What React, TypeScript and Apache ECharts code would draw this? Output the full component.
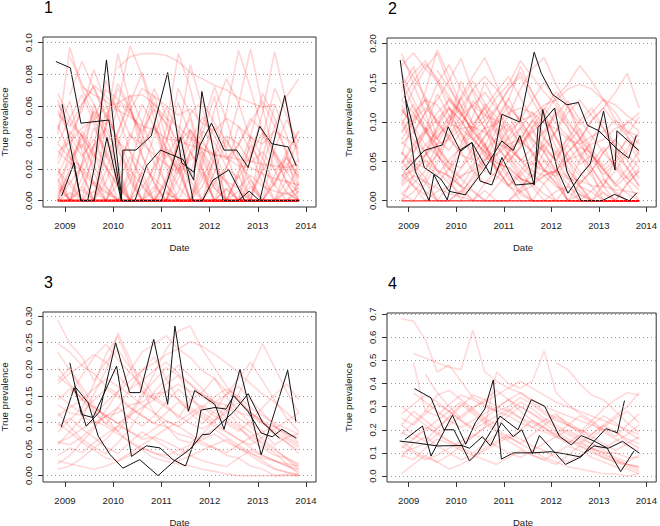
import React, { useEffect, useRef } from "react";
import * as echarts from "echarts";

// quarterly sampling dates used by the red (posterior) lines
const QUARTERS = [2008.85, 2009.1, 2009.35, 2009.6, 2009.85, 2010.1, 2010.35, 2010.6, 2010.85, 2011.1, 2011.35, 2011.6, 2011.85, 2012.1, 2012.35, 2012.6, 2012.85, 2013.1, 2013.35, 2013.6, 2013.85];
const YEAR_TICKS = [2009, 2010, 2011, 2012, 2013, 2014];
const P1_TICKS = [0, 0.02, 0.04, 0.06, 0.08, 0.1];
const P2_TICKS = [0, 0.05, 0.1, 0.15, 0.2];
const P3_TICKS = [0, 0.05, 0.1, 0.15, 0.2, 0.25, 0.3];
const P4_TICKS = [0, 0.1, 0.2, 0.3, 0.4, 0.5, 0.6, 0.7];

// red lines, panel 1 (units of 0.001)
const P1_RED = [
  [68,52,41,18,0,0,12,33,47,21,0,0,9,26,0,0,4,19,31,11,0],
  [16,33,61,72,54,39,22,0,0,14,37,52,21,0,0,0,13,0,0,7,22],
  [0,0,9,27,47,93,61,28,11,0,0,17,42,66,29,9,0,0,16,31,44],
  [42,97,71,53,29,12,0,0,23,38,62,41,19,0,0,6,0,0,0,13,5],
  [5,13,0,0,31,61,98,79,52,24,9,0,0,0,21,47,31,11,0,0,0],
  [55,47,61,73,66,59,41,36,29,23,17,26,31,19,12,8,16,9,6,4,8],
  [0,21,44,31,9,0,0,0,16,46,93,71,39,23,11,0,0,27,61,41,16],
  [31,24,19,10,5,0,0,8,21,33,27,13,0,0,0,0,0,0,0,0,0],
  [null,null,72,67,63,57,53,47,45,39,38,35,33,29,28,26,25,23,22,21,23],
  [10,0,0,0,19,43,67,49,31,10,0,0,0,29,56,95,71,44,19,5,0],
  [0,0,0,0,0,11,28,14,0,0,0,0,14,31,12,0,0,0,0,0,0],
  [23,41,57,83,61,34,12,0,0,0,5,31,47,72,51,27,10,0,0,0,0],
  [null,null,null,null,null,84,91,93,93,92,88,81,77,73,70,65,62,59,61,null,null],
  [0,0,14,36,21,0,0,0,0,11,27,45,31,14,0,0,0,21,47,66,77],
  [8,0,0,0,0,0,0,0,0,0,0,0,0,0,0,0,0,0,0,0,0],
  [45,63,31,10,0,0,0,19,41,59,44,31,15,0,0,0,0,0,11,29,44],
  [0,0,0,12,0,0,0,0,0,5,0,0,0,0,0,16,0,0,0,0,0],
  [19,10,0,34,76,54,31,9,0,0,0,0,0,0,0,0,0,41,71,54,29],
  [0,5,0,0,0,0,0,18,0,0,0,0,0,0,8,0,0,0,0,5,0],
  [31,37,46,51,59,62,66,67,61,52,47,39,36,29,27,22,21,17,14,12,10],
  [0,0,24,61,39,18,0,0,0,0,41,86,59,31,0,0,0,0,0,21,39],
  [12,25,36,22,8,0,0,0,0,0,0,0,0,0,0,19,41,27,10,0,0],
  [null,91,74,61,44,31,19,10,0,0,0,0,0,0,0,0,0,0,0,0,0],
  [0,0,0,0,0,0,21,49,71,54,31,9,0,0,0,0,0,0,0,0,0],
  [0,0,0,0,0,0,0,0,0,0,0,0,0,11,21,36,49,63,47,31,11],
  [36,27,21,12,6,0,0,0,0,0,14,31,19,8,0,0,0,0,0,0,0],
  [0,0,0,0,49,71,57,41,24,10,0,0,0,0,0,0,27,56,94,61,24],
  [61,49,41,29,21,9,0,0,0,0,0,0,0,0,0,0,0,0,0,0,0],
  [0,11,22,35,46,37,31,21,14,6,0,0,0,0,0,0,0,0,0,0,0],
  [0,0,0,0,0,0,0,0,0,12,35,55,63,49,38,25,14,0,0,0,0],
  [null,26,39,57,48,62,55,44,58,49,37,45,33,28,41,36,24,31,19,27,15],
  [0,0,0,0,0,0,0,0,0,0,0,0,0,0,0,0,0,0,0,0,0],
  [14,0,7,0,0,22,0,0,9,0,0,0,18,0,0,0,0,0,0,0,6],
  [null,null,null,52,70,64,57,71,66,60,54,58,49,44,52,47,40,36,44,39,33],
  [0,0,0,0,0,0,0,0,0,0,0,0,28,47,33,61,96,59,27,12,0],
  [3,18,42,27,56,38,14,0,6,31,19,44,26,8,0,17,35,22,9,28,14],
  [48,29,0,0,12,35,58,42,67,39,21,0,0,18,39,24,0,0,33,51,37],
  [0,0,0,6,0,0,17,0,0,0,24,0,0,0,0,0,9,0,0,0,0],
  [27,44,33,56,41,22,39,61,47,33,19,28,44,37,21,14,29,43,31,18,26],
  [null,67,88,71,52,74,59,36,48,27,41,19,0,0,0,0,0,0,0,0,0],
  [0,0,0,0,0,0,0,0,0,0,0,0,0,0,0,0,0,0,12,24,9],
  [12,0,23,46,31,14,0,0,0,36,71,54,28,11,0,0,0,0,0,0,0],
  [0,33,18,0,0,0,0,39,62,48,26,0,0,0,0,0,41,68,52,29,0],
  [57,41,28,39,22,9,0,0,0,0,0,0,0,0,0,0,0,0,0,0,0],
  [0,0,0,0,0,18,43,29,11,0,0,0,0,0,7,0,0,0,0,0,0],
  [21,0,0,0,0,0,0,0,0,0,0,0,23,58,77,62,38,17,0,0,0],
  [36,52,67,49,27,44,62,81,58,31,18,37,53,41,26,35,52,44,29,18,7],
  [null,null,9,0,0,0,0,0,0,0,19,0,0,0,0,0,0,0,0,0,0],
  [64,38,17,0,0,0,0,0,0,0,0,0,0,0,0,0,0,0,0,0,11],
];

// red lines, panel 2 (units of 0.001)
const P2_RED = [
  [152,118,93,58,41,72,108,151,122,79,52,31,63,88,121,79,42,19,52,81,63],
  [58,103,139,192,158,121,82,57,43,18,11,42,79,118,93,57,31,9,0,22,38],
  [21,42,58,83,97,133,158,182,148,112,77,62,38,31,52,68,61,39,21,9,0],
  [103,78,62,39,31,18,42,69,102,128,171,138,112,79,51,19,0,0,0,0,0],
  [0,0,22,48,83,108,142,118,92,58,31,0,0,0,19,52,78,103,68,41,18],
  [181,158,132,98,82,58,52,38,31,19,32,48,71,88,112,128,108,92,68,52,28],
  [42,53,58,72,78,92,94,87,73,66,53,47,38,36,28,26,19,18,14,12,9],
  [128,112,88,71,48,42,58,82,98,121,102,78,62,38,21,0,0,0,0,0,0],
  [72,88,112,128,153,181,138,102,68,52,28,22,38,62,78,102,118,92,58,42,19],
  [0,11,28,62,88,132,98,72,38,21,0,0,0,0,0,0,0,21,38,62,78],
  [108,142,168,188,148,112,88,102,118,142,158,128,102,68,42,18,0,0,0,0,0],
  [52,28,12,0,0,0,22,48,82,108,142,168,182,148,122,88,62,28,11,0,0],
  [19,32,24,16,9,5,0,0,0,0,11,19,32,38,31,18,11,0,0,0,0],
  [88,112,128,122,98,92,78,92,98,112,118,112,98,92,78,72,82,88,102,88,82],
  [162,128,102,78,102,118,142,158,142,118,102,78,62,38,62,78,102,118,138,162,118],
  [0,0,0,0,0,0,0,0,0,0,0,0,0,0,0,0,0,0,0,0,0],
  [28,62,88,62,28,0,0,22,38,62,78,62,38,22,0,0,0,0,0,0,0],
  [138,162,178,152,118,102,78,62,48,42,28,22,32,38,52,58,72,78,92,98,112],
  [62,48,42,58,82,98,122,108,102,88,102,108,122,128,142,148,142,128,122,108,98],
  [9,22,38,72,98,152,118,92,58,32,8,0,0,0,0,22,38,62,78,58,42],
  [122,88,62,38,22,8,32,58,92,68,52,38,32,18,12,0,0,0,0,0,0],
  [78,102,118,102,78,62,38,22,28,52,68,92,108,132,148,172,152,128,112,88,72],
  [42,18,0,0,0,12,28,52,68,92,108,92,68,52,28,12,0,0,0,22,38],
  [172,188,168,152,128,112,88,72,48,42,28,22,8,0,0,0,0,0,0,0,0],
  [0,0,0,12,18,32,38,52,58,72,78,102,118,98,82,58,42,18,0,0,0],
  [98,72,48,32,52,68,92,108,132,148,178,158,138,122,98,82,58,42,18,32,52],
  [32,38,52,38,32,18,12,0,0,0,0,0,0,12,18,8,0,0,0,0,0],
  [48,72,88,112,128,108,92,68,52,28,12,0,22,38,62,78,102,118,98,82,58],
  [188,148,112,68,42,18,0,0,0,0,0,0,0,0,0,0,0,0,0,0,0],
  [0,32,58,92,118,102,78,62,38,62,78,102,78,62,38,22,38,62,78,102,88],
  [null,null,62,95,131,112,89,123,106,77,93,58,71,49,83,62,37,0,0,0,0],
  [115,97,131,78,64,88,52,73,39,61,44,29,52,36,0,0,0,11,0,0,0],
  [null,47,29,0,0,0,0,13,0,0,0,0,0,0,0,0,0,0,0,0,0],
  [75,61,86,104,119,94,127,111,84,98,72,89,64,53,71,46,58,39,52,28,41],
  [0,0,0,0,0,0,0,0,18,37,24,0,0,0,0,0,0,0,0,0,0],
  [97,123,88,136,109,74,96,118,87,64,92,113,81,57,73,92,66,44,59,77,51],
  [0,0,0,0,0,0,0,0,0,0,0,0,0,0,0,0,0,0,0,0,0],
  [143,171,126,98,117,84,59,82,104,131,97,73,51,28,0,0,0,0,0,0,0],
  [24,47,71,58,39,62,88,67,42,19,37,58,41,22,0,0,13,27,9,0,0],
  [null,84,112,149,173,141,118,92,71,49,68,87,104,79,52,31,49,68,41,22,0],
  [61,42,23,0,0,0,0,0,0,0,0,0,0,0,0,0,0,0,0,0,0],
  [0,0,0,0,19,41,68,93,117,142,163,137,109,81,58,37,18,0,0,0,0],
  [117,94,71,88,106,129,152,124,97,72,51,67,89,112,93,71,52,33,49,66,87],
  [33,19,7,22,41,28,13,0,0,0,16,33,21,0,0,0,0,0,0,0,0],
  [null,null,null,166,143,121,97,118,139,158,131,104,86,109,127,103,82,61,44,28,14],
  [86,109,91,67,48,29,46,63,79,58,37,18,0,0,0,0,0,0,0,0,0],
  [47,68,93,78,109,87,64,41,59,81,104,128,151,127,102,79,57,38,22,41,63],
  [9,0,0,0,0,13,0,0,0,0,0,0,0,0,0,8,0,0,0,0,0],
  [128,151,174,156,133,109,121,138,117,93,71,94,116,139,118,97,111,129,103,84,107],
];

// red lines, panel 3 (units of 0.001)
const P3_RED = [
  [292,248,223,178,214,236,203,158,144,172,188,153,118,104,133,108,93,68,52,31,12],
  [82,104,127,172,228,262,207,183,148,133,108,142,157,183,147,122,98,83,58,72,79],
  [178,203,158,122,98,83,112,147,192,238,272,281,237,203,168,143,118,102,78,63,41],
  [118,92,68,53,41,62,88,123,157,183,208,187,163,138,122,97,82,58,43,22,3],
  [22,38,63,88,123,158,198,232,247,263,238,222,197,183,158,142,118,103,78,62,48],
  [248,232,207,192,168,153,128,113,98,92,78,72,58,52,38,33,18,12,0,2,0],
  [58,83,108,153,198,268,218,162,118,93,68,62,78,103,118,153,198,248,203,158,118],
  [133,118,113,98,112,118,133,138,153,158,172,158,153,138,133,118,112,98,93,78,72],
  [12,18,33,52,68,93,118,153,178,203,188,172,148,133,108,93,68,52,38,33,18],
  [203,172,143,118,97,128,163,198,223,182,143,118,97,122,153,182,213,178,142,108,83],
  [93,108,88,72,53,42,63,82,68,53,38,52,73,88,72,57,43,28,13,7,0],
  [null,153,188,223,247,218,193,168,143,128,113,98,88,103,123,138,118,98,83,68,53],
  [152,133,118,142,163,148,127,112,98,118,138,123,108,93,82,68,53,38,28,18,8],
  [63,58,72,93,112,128,108,93,113,138,162,143,128,112,98,83,103,128,152,172,143],
  [232,198,167,132,108,83,62,48,33,27,22,18,12,8,3,0,0,0,0,0,0],
  [38,52,43,62,78,93,83,72,88,103,93,78,63,52,43,58,72,63,48,33,22],
  [173,192,208,228,213,188,163,178,198,213,193,172,153,138,152,168,142,118,93,72,58],
  [98,82,63,48,33,28,43,58,72,63,52,38,28,22,17,33,48,38,28,18,12],
  [null,null,null,113,138,158,178,198,212,227,238,252,243,228,212,193,173,153,138,118,98],
  [142,163,148,128,112,98,82,68,73,88,102,117,132,118,103,88,73,82,93,78,62],
  [62,72,88,103,93,78,63,52,42,38,47,58,68,78,63,52,42,33,28,22,18],
  [188,168,143,163,182,168,152,133,118,103,92,108,128,148,163,148,128,113,98,88,78],
  [28,22,17,12,18,27,38,52,43,33,28,37,48,58,68,52,38,23,12,6,2],
  [112,128,143,128,113,98,113,128,143,158,143,128,113,98,83,68,58,72,88,103,118],
];

// red lines, panel 4 (units of 0.01)
const P4_RED = [
  [68,67,59,45,48,41,34,31,28,26,23,21,19,17,15,14,12,10,10,8,8],
  [null,53,51,49,47,46,63,45,41,38,36,33,30,28,26,24,22,20,19,16,14],
  [null,49,28,26,31,35,33,30,28,30,34,31,27,24,22,20,18,22,26,30,36],
  [22,18,15,21,25,30,35,33,30,28,25,23,20,18,15,13,10,8,6,5,4],
  [10,12,14,18,22,26,30,32,35,38,41,38,35,32,30,28,26,24,22,20,18],
  [25,22,27,31,28,24,20,23,26,29,25,21,24,27,22,19,16,21,25,28,23],
  [8,14,17,13,10,7,9,12,15,18,16,13,11,8,6,9,12,10,7,5,3],
  [null,null,44,36,30,25,29,33,37,33,28,24,21,18,22,26,23,19,16,13,11],
  [18,23,28,35,37,33,29,25,22,26,30,27,23,19,16,14,18,22,19,15,12],
  [12,16,21,19,15,12,10,14,18,15,12,9,7,10,13,11,8,6,4,3,1],
  [null,null,null,null,null,null,null,null,null,null,null,null,null,49,46,40,35,33,28,23,19],
  [30,26,22,18,15,13,17,21,45,40,38,41,54,36,31,27,24,20,17,22,27],
  [15,11,8,6,9,13,17,21,24,28,32,29,25,22,19,16,14,12,15,18,22],
  [1,5,9,6,3,5,8,11,14,17,14,11,8,6,4,3,2,1,1,0,1],
  [27,31,35,32,28,24,21,25,29,33,30,27,24,21,18,15,12,9,7,5,4],
  [19,16,20,24,28,32,28,24,20,17,14,18,22,26,23,20,17,14,11,14,17],
  [null,36,32,28,24,21,24,27,30,33,36,32,28,25,22,19,24,29,33,36,35],
  [9,7,12,16,14,11,9,7,5,8,11,9,7,5,9,13,11,8,6,4,2],
  [22,28,24,20,26,31,27,23,19,16,20,24,21,17,14,18,22,26,23,19,16],
  [13,10,7,9,12,15,18,16,13,10,8,11,14,17,20,17,14,11,8,6,9],
];

// black (observed) lines: [year, prevalence]
const P1_BLACK = [
  [[2008.81,0.088],[2009.11,0.084],[2009.33,0.049],[2009.91,0.051],[2010.17,0.0],[2010.2,0.032],[2010.47,0.032],[2010.79,0.041],[2011.13,0.081],[2011.42,0.024],[2011.67,0.018],[2011.8,0.035],[2012.04,0.049],[2012.3,0.032],[2012.56,0.032],[2012.8,0.021],[2013.04,0.047],[2013.29,0.036],[2013.63,0.034],[2013.8,0.022]],
  [[2008.94,0.061],[2009.33,0.0],[2009.6,0.0],[2009.87,0.04],[2010.17,0.0],[2010.45,0.0],[2010.69,0.022],[2010.98,0.032],[2011.45,0.026],[2011.67,0.013],[2011.84,0.069],[2012.28,0.0],[2012.6,0.0],[2012.82,0.006],[2013.04,0.0],[2013.56,0.0665],[2013.75,0.0366]],
  [[2008.93,0.003],[2009.19,0.024],[2009.33,0.0],[2009.47,0.0],[2009.62,0.023],[2009.86,0.089],[2010.18,0.0],[2010.6,0.0],[2011.0,0.0],[2011.4,0.04],[2011.66,0.0],[2011.85,0.0],[2012.07,0.013],[2012.4,0.0195],[2012.73,0.0],[2013.2,0.0],[2013.85,0.0]],
];
const P2_BLACK = [
  [[2008.82,0.179],[2009.14,0.037],[2009.43,0.0],[2009.53,0.033],[2009.81,0.001],[2010.09,0.065],[2010.33,0.074],[2010.72,0.033],[2010.96,0.11],[2011.34,0.1],[2011.64,0.189],[2011.79,0.162],[2012.03,0.135],[2012.33,0.122],[2012.57,0.125],[2012.76,0.096],[2013.0,0.089],[2013.38,0.066],[2013.63,0.054],[2013.79,0.083]],
  [[2008.92,0.133],[2009.33,0.042],[2009.67,0.028],[2009.85,0.012],[2010.19,0.0075],[2010.58,0.039],[2010.96,0.076],[2011.2,0.064],[2011.34,0.083],[2011.64,0.02],[2011.72,0.093],[2012.07,0.118],[2012.33,0.037],[2012.63,0.0],[2012.8,0.0],[2013.07,0.0],[2013.33,0.008],[2013.64,0.0],[2013.8,0.01]],
  [[2008.94,0.039],[2009.33,0.064],[2009.71,0.071],[2009.83,0.094],[2010.09,0.063],[2010.33,0.074],[2010.5,0.025],[2010.75,0.02],[2010.96,0.055],[2011.25,0.02],[2011.64,0.022],[2011.82,0.116],[2012.13,0.039],[2012.35,0.0096],[2012.65,0.035],[2012.82,0.047],[2013.1,0.114],[2013.34,0.039],[2013.38,0.089],[2013.84,0.064]],
];
const P3_BLACK = [
  [[2008.92,0.091],[2009.19,0.165],[2009.44,0.093],[2009.72,0.12],[2010.05,0.25],[2010.34,0.156],[2010.56,0.156],[2010.84,0.256],[2011.13,0.134],[2011.28,0.281],[2011.56,0.121],[2011.69,0.16],[2012.11,0.134],[2012.3,0.087],[2012.63,0.2],[2013.07,0.039],[2013.62,0.198],[2013.79,0.102]],
  [[2009.1,0.212],[2009.34,0.115],[2009.58,0.109],[2010.07,0.206],[2010.38,0.036],[2010.69,0.056],[2010.97,0.052],[2011.24,0.03],[2011.5,0.018],[2011.73,0.075],[2011.82,0.123],[2012.11,0.128],[2012.34,0.125],[2012.5,0.15],[2012.8,0.12],[2013.07,0.08],[2013.3,0.073],[2013.5,0.087],[2013.8,0.07]],
  [[2009.2,0.168],[2009.48,0.137],[2009.69,0.074],[2009.93,0.04],[2010.2,0.014],[2010.55,0.03],[2010.93,0.0],[2011.3,0.03],[2011.6,0.05],[2011.85,0.077],[2012.0,0.078],[2012.5,0.12],[2012.8,0.154],[2013.1,0.1],[2013.45,0.07]],
];
const P4_BLACK = [
  [[2009.12,0.378],[2009.47,0.338],[2009.74,0.2],[2009.95,0.2],[2010.28,0.065],[2010.45,0.1],[2010.75,0.2],[2010.92,0.259],[2011.3,0.2],[2011.58,0.33],[2011.86,0.302],[2012.17,0.172],[2012.42,0.134],[2012.63,0.175],[2012.9,0.151],[2013.17,0.122],[2013.46,0.019],[2013.74,0.108]],
  [[2008.92,0.158],[2009.29,0.216],[2009.47,0.086],[2009.92,0.263],[2010.2,0.137],[2010.4,0.23],[2010.6,0.29],[2010.78,0.415],[2010.95,0.073],[2011.2,0.1],[2011.6,0.1],[2012.0,0.105],[2012.3,0.095],[2012.6,0.083],[2012.9,0.13],[2013.2,0.12],[2013.5,0.15],[2013.87,0.096]],
  [[2008.81,0.151],[2009.12,0.144],[2009.6,0.13],[2010.12,0.132],[2010.28,0.12],[2010.55,0.17],[2010.72,0.13],[2010.95,0.23],[2011.2,0.17],[2011.38,0.2],[2011.6,0.096],[2011.75,0.175],[2012.3,0.05],[2012.63,0.083],[2012.9,0.15],[2013.15,0.205],[2013.39,0.187],[2013.54,0.326]],
];

const FONT = "'Liberation Sans', Arial, Helvetica, sans-serif";

const PANELS = [
  { label: "1", red: P1_RED, unit: 0.001, black: P1_BLACK, ticks: P1_TICKS, dec: 2, ymin: -0.004, ymax: 0.1035, box: { left: 43, top: 37, width: 273, height: 170 }, redAlpha: 0.17 },
  { label: "2", red: P2_RED, unit: 0.001, black: P2_BLACK, ticks: P2_TICKS, dec: 2, ymin: -0.008, ymax: 0.207, box: { left: 387, top: 38, width: 272, height: 169 }, redAlpha: 0.17 },
  { label: "3", red: P3_RED, unit: 0.001, black: P3_BLACK, ticks: P3_TICKS, dec: 2, ymin: -0.012, ymax: 0.3075, box: { left: 43, top: 312, width: 273, height: 170 }, redAlpha: 0.15 },
  { label: "4", red: P4_RED, unit: 0.01, black: P4_BLACK, ticks: P4_TICKS, dec: 1, ymin: -0.026, ymax: 0.705, box: { left: 387, top: 313, width: 272, height: 169 }, redAlpha: 0.15 },
];

export default function App() {
  const ref = useRef<HTMLDivElement>(null);
  useEffect(() => {
    if (!ref.current) return;
    const chart = echarts.init(ref.current, null, { renderer: "svg" });
    const grid: any[] = [];
    const xAxis: any[] = [];
    const yAxis: any[] = [];
    const series: any[] = [];
    const graphic: any[] = [];
    PANELS.forEach((p, gi) => {
      grid.push({ ...p.box, show: true, borderColor: "#333", borderWidth: 1, backgroundColor: "transparent" });
      xAxis.push({
        type: "value", gridIndex: gi, min: 2008.543, max: 2014.208,
        axisLine: { show: false, onZero: false },
        axisTick: { show: true, customValues: YEAR_TICKS, length: 5, lineStyle: { color: "#333" } },
        axisLabel: { customValues: YEAR_TICKS, fontSize: 9.6, color: "#222", margin: 13, fontFamily: FONT, formatter: (v: number) => String(Math.round(v)) },
        splitLine: { show: false },
      });
      yAxis.push({
        type: "value", gridIndex: gi, min: p.ymin, max: p.ymax,
        axisLine: { show: false, onZero: false },
        axisTick: { show: true, customValues: p.ticks, length: 5, lineStyle: { color: "#333" } },
        axisLabel: {
          customValues: p.ticks, rotate: 90, fontSize: 9.6, color: "#222", margin: 10, fontFamily: FONT,
          formatter: (v: number) => v.toFixed(p.dec),
        },
        splitLine: { show: false },
      });
      series.push({
        type: "line", xAxisIndex: gi, yAxisIndex: gi, data: [], silent: true, z: 1,
        markLine: {
          silent: true, symbol: ["none", "none"], label: { show: false },
          lineStyle: { type: [1, 3], color: "#999", width: 1 },
          data: p.ticks.map((v) => ({ yAxis: v })),
        },
      });
      p.red.forEach((line) => {
        const data = line
          .map((v, i) => (v == null ? null : [QUARTERS[i], v * p.unit]))
          .filter((d) => d !== null);
        series.push({
          type: "line", xAxisIndex: gi, yAxisIndex: gi, data, symbol: "none", silent: true, z: 2,
          lineStyle: { color: `rgba(255,0,0,${p.redAlpha})`, width: 1.6 },
        });
      });
      p.black.forEach((line) => {
        series.push({
          type: "line", xAxisIndex: gi, yAxisIndex: gi, data: line, symbol: "none", silent: true, z: 3,
          lineStyle: { color: "#111", width: 1 },
        });
      });
      const b = p.box;
      graphic.push({
        type: "text", x: b.left + 1, y: b.top - 30,
        style: { text: p.label, font: `16px ${FONT}`, fill: "#000", textAlign: "left", textVerticalAlign: "middle" },
      });
      graphic.push({
        type: "text", x: b.left + b.width / 2, y: b.top + b.height + 40,
        style: { text: "Date", font: `9.6px ${FONT}`, fill: "#222", textAlign: "center", textVerticalAlign: "middle" },
      });
      graphic.push({
        type: "text", x: b.left - 39, y: b.top + b.height / 2, rotation: Math.PI / 2,
        style: { text: "True prevalence", font: `9.6px ${FONT}`, fill: "#222", textAlign: "center", textVerticalAlign: "middle" },
      });
    });
    chart.setOption({
      animation: false,
      textStyle: { fontFamily: FONT },
      grid, xAxis, yAxis, series, graphic,
    });
    return () => chart.dispose();
  }, []);
  return <div ref={ref} style={{ position: "fixed", left: 0, top: 0, width: 660, height: 526, background: "#fff" }} />;
}
